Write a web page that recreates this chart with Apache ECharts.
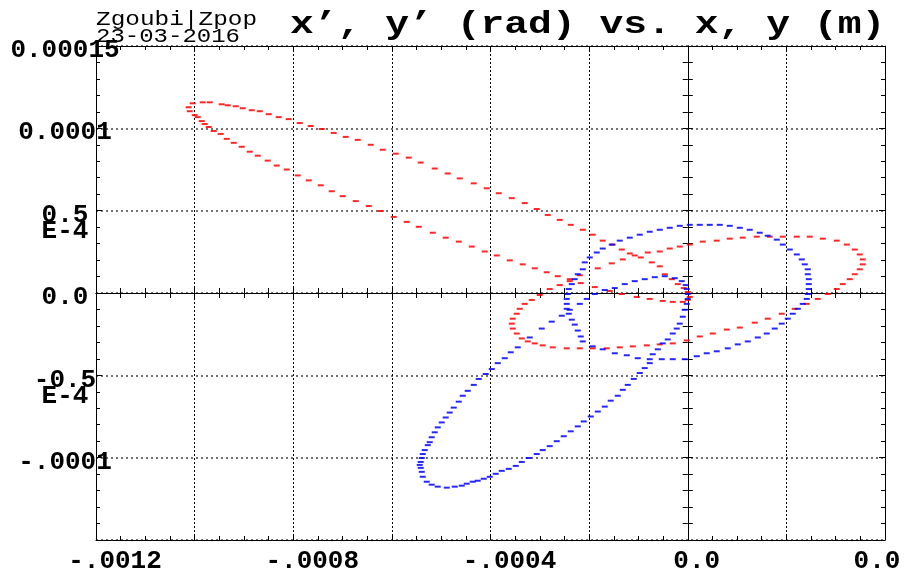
<!DOCTYPE html>
<html lang="en">
<head>
	<meta charset="UTF-8">
	<title>Zgoubi Zpop</title>
	<script type="text/javascript" src="https://cdn.jsdelivr.net/npm/echarts@6/dist/echarts.min.js"></script>
	<style type="text/css">
	html, body{margin: 0; padding: 0; background: #fff;}
	#container{width: 907px; height: 574px;}
	</style>
</head>
<body>
	<div id="container"></div>
	<script type="text/javascript">
		// axis ranges and tick labels
		var xMin = -0.0012, xMax = 0.0004, xStep = 0.0002;
		var yMin = -0.00015, yMax = 0.00015, yStep = 0.00005;
		var xTickLabels = ['-.0012', '', '-.0008', '', '-.0004', '', '0.0', '', '0.0'];
		var yTickLabels = ['', '-.0001', '-0.5\nE-4', '0.0', '0.5\nE-4', '0.0001', '0.00015'];

		// red: thin tilted loop
		var redThin = [
			[-0.001012, 0.0001128], [-0.0010039, 0.0001152], [-0.0009836, 0.0001158], [-0.0009694, 0.0001158],
			[-0.000945, 0.0001146], [-0.0009329, 0.000114], [-0.0009167, 0.0001134], [-0.0009025, 0.0001122],
			[-0.0008842, 0.000111], [-0.000868, 0.0001104], [-0.0008497, 0.0001086], [-0.0008295, 0.0001068],
			[-0.0008092, 0.0001056], [-0.0007869, 0.0001032], [-0.0007646, 0.0001014], [-0.0007422, 0.0000996],
			[-0.0007179, 0.0000972], [-0.0006936, 0.0000948], [-0.0006692, 0.000093], [-0.0006429, 0.00009],
			[-0.0006185, 0.000087], [-0.0005922, 0.0000846], [-0.0005658, 0.0000822], [-0.0005415, 0.0000792],
			[-0.0005131, 0.0000756], [-0.0004867, 0.0000726], [-0.0004624, 0.0000696], [-0.000434, 0.0000666],
			[-0.0004076, 0.0000636], [-0.0003833, 0.0000606], [-0.0003569, 0.0000576], [-0.0003306, 0.0000546],
			[-0.0003062, 0.000051], [-0.0002839, 0.0000474], [-0.0002596, 0.0000444], [-0.0002373, 0.0000414],
			[-0.0002129, 0.0000384], [-0.0001927, 0.0000354], [-0.0001724, 0.0000318], [-0.0001521, 0.0000294],
			[-0.0001338, 0.0000264], [-0.0001176, 0.000024], [-0.0000953, 0.0000216], [-0.000073, 0.0000186],
			[-0.0000568, 0.0000162], [-0.0000466, 0.0000114], [-0.0000324, 0.0000084], [-0.0000203, 0.0000054],
			[-0.0000081, 0.000003], [0.0, 0.0000006], [0.0000041, -0.0000024], [0.0, -0.0000042],
			[-0.0000101, -0.0000054], [-0.0000304, -0.0000054], [-0.0000507, -0.0000048], [-0.0000771, -0.0000036],
			[-0.0001034, -0.0000024], [-0.0001338, -0.0000006], [-0.0001582, 0.0000012], [-0.0001886, 0.0000036],
			[-0.000217, 0.000006], [-0.0002393, 0.0000084], [-0.0002636, 0.0000102], [-0.000286, 0.0000126],
			[-0.0003103, 0.000015], [-0.0003346, 0.0000174], [-0.000361, 0.0000198], [-0.0003873, 0.0000228],
			[-0.0004117, 0.0000252], [-0.000438, 0.0000282], [-0.0004644, 0.0000312], [-0.0004908, 0.0000336],
			[-0.0005171, 0.0000366], [-0.0005455, 0.0000402], [-0.0005699, 0.0000432], [-0.0005962, 0.0000462],
			[-0.0006226, 0.0000498], [-0.0006469, 0.0000528], [-0.0006733, 0.0000558], [-0.0006997, 0.0000588],
			[-0.000722, 0.0000618], [-0.0007443, 0.0000654], [-0.0007686, 0.0000684], [-0.0007909, 0.0000714],
			[-0.0008132, 0.000075], [-0.0008335, 0.0000774], [-0.0008518, 0.0000804], [-0.000872, 0.0000834],
			[-0.0008883, 0.0000858], [-0.0009045, 0.0000888], [-0.0009207, 0.0000912], [-0.0009349, 0.0000936],
			[-0.0009471, 0.0000966], [-0.0009613, 0.0000984], [-0.0009714, 0.0001008], [-0.0009795, 0.0001026],
			[-0.0009856, 0.0001044], [-0.0009937, 0.0001068], [-0.0009998, 0.000108], [-0.0010099, 0.0001104]
		];

		// red: flat loop
		var redFlat = [
			[-0.0003569, -0.0000186], [-0.0003549, -0.0000156], [-0.0003468, -0.0000126], [-0.0003407, -0.0000096],
			[-0.0003306, -0.0000066], [-0.0003164, -0.0000042], [-0.0003001, -0.0000012], [-0.0002799, 0.0000024],
			[-0.0002596, 0.0000048], [-0.0002393, 0.0000072], [-0.000219, 0.0000108], [-0.0001825, 0.000015],
			[-0.0001541, 0.000018], [-0.0001318, 0.0000204], [-0.0001075, 0.0000228], [-0.0000811, 0.0000246],
			[-0.0000568, 0.0000252], [-0.0000365, 0.000027], [-0.0000162, 0.0000282], [0.0000041, 0.0000294],
			[0.0000304, 0.0000312], [0.0000588, 0.0000318], [0.0000852, 0.000033], [0.0001115, 0.0000336],
			[0.0001399, 0.0000342], [0.0001663, 0.0000342], [0.0001927, 0.0000342], [0.0002211, 0.0000342],
			[0.0002474, 0.0000342], [0.0002738, 0.000033], [0.0003022, 0.0000318], [0.0003225, 0.0000294],
			[0.0003387, 0.0000264], [0.0003488, 0.0000234], [0.0003549, 0.0000204], [0.0003549, 0.0000174],
			[0.0003488, 0.0000144], [0.0003387, 0.0000114], [0.0003285, 0.0000084], [0.0003143, 0.0000054],
			[0.0003022, 0.0000024], [0.0002839, -0.0000006], [0.0002636, -0.0000036], [0.0002413, -0.0000066],
			[0.000217, -0.0000096], [0.0001906, -0.0000126], [0.0001622, -0.0000156], [0.0001359, -0.000018],
			[0.0001055, -0.000021], [0.0000791, -0.0000222], [0.0000507, -0.0000246], [0.0000243, -0.0000264],
			[-0.000002, -0.0000288], [-0.0000304, -0.0000306], [-0.0000568, -0.0000312], [-0.0000831, -0.0000318],
			[-0.0001115, -0.0000324], [-0.0001379, -0.000033], [-0.0001643, -0.0000336], [-0.0001927, -0.0000336],
			[-0.000219, -0.0000336], [-0.0002454, -0.0000336], [-0.0002738, -0.000033], [-0.0002941, -0.0000318],
			[-0.0003103, -0.0000306], [-0.0003245, -0.0000294], [-0.0003366, -0.0000276], [-0.0003468, -0.0000246],
			[-0.0003549, -0.0000216]
		];

		// blue: thin tilted loop
		var blueThin = [
			[-0.0005415, -0.0001026], [-0.0005435, -0.0001044], [-0.0005415, -0.0001062], [-0.0005394, -0.0001086],
			[-0.0005374, -0.0001116], [-0.0005293, -0.0001146], [-0.0005192, -0.0001164], [-0.000507, -0.0001176],
			[-0.0004887, -0.0001182], [-0.0004725, -0.0001176], [-0.0004583, -0.000117], [-0.0004482, -0.0001158],
			[-0.000436, -0.0001146], [-0.0004259, -0.000114], [-0.0004137, -0.0001128], [-0.0004015, -0.0001116],
			[-0.0003894, -0.0001098], [-0.0003772, -0.000108], [-0.000363, -0.0001068], [-0.0003488, -0.000105],
			[-0.0003366, -0.0001026], [-0.0003225, -0.0001002], [-0.0003062, -0.0000978], [-0.0002941, -0.0000954],
			[-0.0002799, -0.000093], [-0.0002657, -0.00009], [-0.0002515, -0.000087], [-0.0002373, -0.000084],
			[-0.0002231, -0.000081], [-0.0002109, -0.000078], [-0.0001967, -0.000075], [-0.0001825, -0.000072],
			[-0.0001683, -0.000069], [-0.0001562, -0.0000654], [-0.000142, -0.0000624], [-0.0001318, -0.0000588],
			[-0.0001217, -0.0000558], [-0.0001095, -0.0000522], [-0.0000973, -0.0000486], [-0.0000872, -0.0000456],
			[-0.0000771, -0.0000426], [-0.000071, -0.0000372], [-0.0000608, -0.0000342], [-0.0000507, -0.0000306],
			[-0.0000406, -0.0000282], [-0.0000304, -0.0000246], [-0.0000223, -0.0000216], [-0.0000162, -0.0000186],
			[-0.0000101, -0.0000144], [-0.0000061, -0.0000102], [-0.000002, -0.0000066], [0.0, -0.0000036],
			[0.0, -0.0000006], [-0.000002, 0.0000024], [-0.0000041, 0.0000048], [-0.0000122, 0.0000072],
			[-0.0000264, 0.000009], [-0.0000466, 0.0000102], [-0.0000669, 0.0000096], [-0.0000872, 0.0000084],
			[-0.0001075, 0.0000072], [-0.0001278, 0.0000054], [-0.000148, 0.000003], [-0.0001683, 0.0000018],
			[-0.0001886, -0.0000006], [-0.0002048, -0.0000036], [-0.000219, -0.0000066], [-0.0002393, -0.0000102],
			[-0.0002555, -0.0000138], [-0.0002758, -0.0000174], [-0.0002961, -0.0000216], [-0.0003204, -0.000027],
			[-0.0003448, -0.000033], [-0.000359, -0.000036], [-0.0003711, -0.0000396], [-0.0003853, -0.0000426],
			[-0.0003975, -0.0000462], [-0.0004097, -0.0000492], [-0.0004239, -0.0000522], [-0.000434, -0.0000558],
			[-0.0004462, -0.0000594], [-0.0004563, -0.0000624], [-0.0004644, -0.000066], [-0.0004746, -0.0000696],
			[-0.0004827, -0.0000726], [-0.0004908, -0.0000756], [-0.0004989, -0.0000786], [-0.000507, -0.0000816],
			[-0.0005131, -0.0000846], [-0.0005192, -0.0000876], [-0.0005232, -0.0000906], [-0.0005273, -0.0000924],
			[-0.0005334, -0.0000954], [-0.0005374, -0.0000978], [-0.0005394, -0.0001002]
		];

		// blue: round loop
		var blueRound = [
			[-0.0002454, -0.0000036], [-0.0002434, -0.0000006], [-0.0002413, 0.0000024], [-0.0002352, 0.0000054],
			[-0.0002292, 0.0000084], [-0.0002231, 0.0000114], [-0.0002129, 0.0000144], [-0.0002089, 0.0000186],
			[-0.0001987, 0.0000216], [-0.0001845, 0.0000246], [-0.0001724, 0.000027], [-0.0001541, 0.0000294],
			[-0.0001379, 0.0000318], [-0.0001176, 0.0000336], [-0.0000973, 0.0000354], [-0.0000771, 0.0000372],
			[-0.0000568, 0.0000384], [-0.0000365, 0.0000396], [-0.0000162, 0.0000408], [0.0000041, 0.0000414],
			[0.0000243, 0.0000414], [0.0000446, 0.0000414], [0.0000649, 0.0000414], [0.0000852, 0.0000408],
			[0.0001055, 0.0000396], [0.0001257, 0.0000384], [0.000146, 0.0000366], [0.0001622, 0.0000348],
			[0.0001805, 0.0000324], [0.0001927, 0.0000294], [0.0002069, 0.0000264], [0.0002211, 0.0000234],
			[0.0002312, 0.0000204], [0.0002373, 0.0000174], [0.0002434, 0.0000144], [0.0002434, 0.0000114],
			[0.0002454, 0.0000084], [0.0002454, 0.0000054], [0.0002454, 0.0000024], [0.0002434, -0.0000006],
			[0.0002413, -0.0000036], [0.0002332, -0.0000066], [0.0002231, -0.0000096], [0.0002129, -0.0000126],
			[0.0002028, -0.0000156], [0.0001906, -0.0000186], [0.0001764, -0.0000216], [0.0001602, -0.0000246],
			[0.000142, -0.000027], [0.0001217, -0.0000294], [0.0001014, -0.0000312], [0.0000811, -0.0000336],
			[0.0000588, -0.0000354], [0.0000385, -0.0000366], [0.0000183, -0.0000384], [-0.0000061, -0.0000402],
			[-0.0000304, -0.0000402], [-0.0000527, -0.0000402], [-0.0000771, -0.0000402], [-0.0001014, -0.0000396],
			[-0.0001237, -0.0000378], [-0.000148, -0.0000366], [-0.0001724, -0.0000342], [-0.0001927, -0.0000324],
			[-0.0002129, -0.0000294], [-0.000217, -0.0000264], [-0.0002231, -0.0000228], [-0.0002292, -0.0000192],
			[-0.0002352, -0.0000162], [-0.0002413, -0.0000126], [-0.0002454, -0.0000096], [-0.0002454, -0.0000066]
		];

		var FONT = '"Liberation Mono", "DejaVu Sans Mono", monospace';

		function xLabel(v){
			var i = Math.round((v - xMin) / xStep);
			var t = xTickLabels[i] || '';
			if (!t) return '';
			if (i === 0 || i === 2 || i === 4) return '{a|' + t + '}';
			if (i === xTickLabels.length - 1) return '{c|' + t + '}';
			return '{b|' + t + '}';
		}
		function yLabel(v){
			var i = Math.round((v - yMin) / yStep);
			var t = yTickLabels[i] || '';
			if (!t) return '';
			var lines = t.split('\n');
			// an empty spacer line on top pushes the first text line onto the tick
			var out = (lines.length > 1 ? '{G| }' : '{g| }');
			for (var k = 0; k < lines.length; k++) out += '\n{v|' + lines[k] + '}';
			return out;
		}

		var tickStyle = {color: '#000', width: 1};
		function edgeX(pos, labels){
			return {
				type: 'value', position: pos, min: xMin, max: xMax, interval: xStep,
				axisLine: {show: true, onZero: false, lineStyle: {color: '#000', width: 1}},
				axisTick: {show: true, inside: true, length: 6, lineStyle: tickStyle},
				minorTick: {show: true, splitNumber: 4, length: 4, lineStyle: tickStyle},
				splitLine: {show: labels, lineStyle: {color: '#000', width: 1, type: [2, 2]}},
				axisLabel: labels ? {
					show: true, margin: 8, formatter: xLabel,
					rich: {
						a: {fontFamily: FONT, fontWeight: 'bold', fontSize: 26, color: '#000', padding: [0, 0, 0, 38]},
						b: {fontFamily: FONT, fontWeight: 'bold', fontSize: 26, color: '#000', padding: [0, 0, 0, 18]},
						c: {fontFamily: FONT, fontWeight: 'bold', fontSize: 26, color: '#000', padding: [0, 16, 0, 0]}
					}
				} : {show: false}
			};
		}
		function zeroX(inside){
			return {
				type: 'value', position: 'bottom', min: xMin, max: xMax, interval: xStep,
				axisLine: {show: true, onZero: true, onZeroAxisIndex: 0, lineStyle: {color: '#000', width: 1}},
				axisTick: {show: true, inside: inside, length: 5, lineStyle: tickStyle},
				minorTick: {show: true, splitNumber: 4, length: 5, lineStyle: tickStyle},
				splitLine: {show: false},
				axisLabel: {show: false}
			};
		}
		function edgeY(pos, labels){
			return {
				type: 'value', position: pos, min: yMin, max: yMax, interval: yStep,
				axisLine: {show: true, onZero: false, lineStyle: {color: '#000', width: 1}},
				axisTick: {show: true, inside: true, length: 6, lineStyle: tickStyle},
				minorTick: {show: true, splitNumber: 5, length: 4, lineStyle: tickStyle},
				splitLine: {show: labels, lineStyle: {color: '#444', width: 1.5, type: [2, 3]}},
				axisLabel: labels ? {
					show: true, margin: 31, align: 'center', formatter: yLabel,
					rich: {
						g: {fontSize: 2, lineHeight: 9},
						G: {fontSize: 2, lineHeight: 26},
						v: {fontFamily: FONT, fontWeight: 'bold', fontSize: 26, lineHeight: 16, color: '#000'}
					}
				} : {show: false}
			};
		}
		function zeroY(inside){
			return {
				type: 'value', position: 'left', min: yMin, max: yMax, interval: yStep,
				axisLine: {show: true, onZero: true, onZeroAxisIndex: 0, lineStyle: {color: '#000', width: 1}},
				axisTick: {show: true, inside: inside, length: 5, lineStyle: tickStyle},
				minorTick: {show: true, splitNumber: 5, length: 5, lineStyle: tickStyle},
				splitLine: {show: false},
				axisLabel: {show: false}
			};
		}

		function dots(name, color, data){
			return {
				name: name, type: 'scatter', xAxisIndex: 0, yAxisIndex: 0,
				symbol: 'rect', symbolSize: [6, 2], silent: true,
				itemStyle: {color: color, opacity: 0.85},
				data: data
			};
		}

		var dom = document.getElementById('container');
		var myChart = echarts.init(dom);
		var option = {
			animation: false,
			backgroundColor: '#fff',
			grid: {left: 96, right: 22, top: 46, bottom: 29},
			xAxis: [edgeX('bottom', true), edgeX('top', false), zeroX(true), zeroX(false)],
			yAxis: [edgeY('left', true), edgeY('right', false), zeroY(true), zeroY(false)],
			graphic: [
				{type: 'text', x: 290, y: 9, scaleX: 1.24, silent: true,
					style: {text: 'x’, y’ (rad) vs. x, y (m)', fontFamily: FONT, fontWeight: 'bold', fontSize: 32, fill: '#000', verticalAlign: 'top'}},
				{type: 'text', x: 96, y: 10, scaleX: 1.22, silent: true,
					style: {text: 'Zgoubi|Zpop', fontFamily: FONT, fontSize: 20, fill: '#000', verticalAlign: 'top'}},
				{type: 'text', x: 96, y: 27, scaleX: 1.2, silent: true,
					style: {text: '23-03-2016', fontFamily: FONT, fontSize: 20, fill: '#000', verticalAlign: 'top'}}
			],
			series: [
				dots('red thin', '#ff0000', redThin),
				dots('red flat', '#ff0000', redFlat),
				dots('blue thin', '#0000ff', blueThin),
				dots('blue round', '#0000ff', blueRound)
			]
		};
		myChart.setOption(option);
	</script>
</body>
</html>
